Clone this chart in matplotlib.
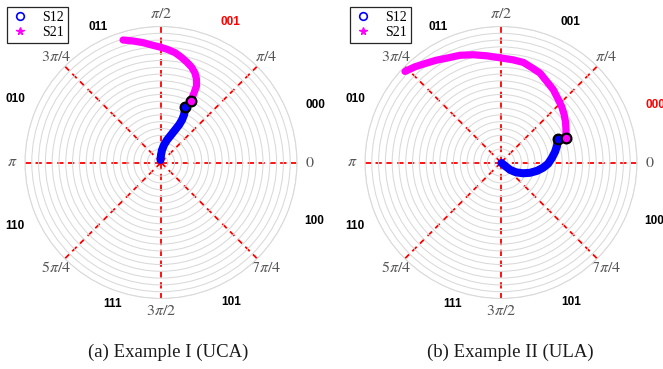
import numpy as np
import matplotlib
matplotlib.use("Agg")
import matplotlib.pyplot as plt
from matplotlib.lines import Line2D

plt.rcParams["mathtext.fontset"] = "stix"
plt.rcParams["font.family"] = ["Liberation Serif", "DejaVu Serif"]

# ── Data (theta in degrees, r normalised to outer ring = 1) ──────────────────

# Example I (UCA)
uca_s12_theta = [101, 90, 85.4, 80.3, 75.1, 70, 66.7, 64.4, 63.7, 64.2, 65.4, 66.6]
uca_s12_r     = [0.019, 0.055, 0.092, 0.131, 0.171, 0.215, 0.260, 0.306,
                 0.349, 0.388, 0.424, 0.445]
uca_s21_theta = [64.2, 64.6, 65.1, 67.0, 69.2, 72.3, 75.7, 79.3, 82.7,
                 86.5, 90.1, 94.4, 98.5, 103, 107.2]
uca_s21_r     = [0.502, 0.566, 0.620, 0.667, 0.704, 0.737, 0.763, 0.790,
                 0.814, 0.832, 0.847, 0.866, 0.891, 0.917, 0.943]

# Example II (ULA)
ula_s12_theta = [-45, -39.5, -39, -33.2, -26.1, -19.6, -13, -7.2, -1.6,
                 5.3, 11.2, 16.6, 22.6]
ula_s12_r     = [0.005, 0.038, 0.085, 0.132, 0.180, 0.226, 0.272, 0.311,
                 0.346, 0.377, 0.405, 0.430, 0.454]
ula_s21_theta = [20.8, 26.7, 32.3, 37.7, 42.7, 48.2, 54.3, 60.3, 66.4, 71.9,
                 77.4, 83.3, 89.6, 97.5, 104.4, 110.9, 117.5, 122.5, 126.8,
                 131.9, 136.5]
ula_s21_r     = [0.511, 0.535, 0.561, 0.585, 0.607, 0.628, 0.659, 0.683,
                 0.717, 0.733, 0.754, 0.760, 0.768, 0.791, 0.818, 0.844,
                 0.865, 0.891, 0.913, 0.946, 0.973]

# bit labels around the circle, and which one is highlighted
BITS       = ["000", "001", "011", "010", "110", "111", "101", "100"]
BIT_THETA  = [20.5, 63.7, 114.7, 156.5, 203.5, 251, 296.5, 339]
BIT_R      = [1.21, 1.15, 1.10, 1.17, 1.17, 1.10, 1.15, 1.21]

TICK_DEG    = [0, 45, 90, 135, 180, 225, 270, 315]
TICK_LABELS = [r"$0$", r"$\pi/4$", r"$\pi/2$", r"$3\pi/4$",
               r"$\pi$", r"$5\pi/4$", r"$3\pi/2$", r"$7\pi/4$"]

N_RINGS = 20

GRID_GREY = "#d9d9d9"
TICK_GREY = "#555555"
BLUE = "#0000ff"
MAGENTA = "#ff00ff"


def draw_panel(ax, s12_t, s12_r, s21_t, s21_r, red_bit, caption, cap_x):
    ax.set_ylim(0, 1)
    ax.set_yticks(np.linspace(1 / N_RINGS, 1, N_RINGS))
    ax.set_yticklabels([])
    ax.yaxis.grid(True, color=GRID_GREY, linewidth=0.75, linestyle="-")
    ax.set_xticks(np.deg2rad(TICK_DEG))
    ax.set_xticklabels(TICK_LABELS, fontsize=11.5, color=TICK_GREY)
    ax.xaxis.grid(True, color="red", linewidth=1.3, linestyle=(0, (3.5, 2.5)))
    ax.tick_params(axis="x", pad=2, length=0)
    ax.spines["polar"].set_color(GRID_GREY)
    ax.spines["polar"].set_linewidth(0.75)

    t12 = np.deg2rad(s12_t)
    t21 = np.deg2rad(s21_t)
    ax.plot(t12, s12_r, color=BLUE, linewidth=5.8, solid_capstyle="round",
            solid_joinstyle="round", zorder=3)
    ax.plot(t21, s21_r, color=MAGENTA, linewidth=5.2, solid_capstyle="round",
            solid_joinstyle="round", zorder=3)
    ax.plot(t12[-1], s12_r[-1], "o", mfc=BLUE, mec="black", ms=7, mew=1.6, zorder=4)
    ax.plot(t21[0], s21_r[0], "o", mfc=MAGENTA, mec="black", ms=7, mew=1.6, zorder=4)

    for b, th, r in zip(BITS, BIT_THETA, BIT_R):
        ax.text(np.deg2rad(th), r, b, ha="center", va="center",
                fontsize=8.5, fontweight="bold", family="Liberation Sans",
                color="red" if b == red_bit else "black", clip_on=False)

    ax.figure.text(cap_x, 1 - 352 / 369, caption, ha="center", va="center",
                   fontsize=13.5, color="#1a1a1a")


fig = plt.figure(figsize=(6.63, 3.69), dpi=100)
ax_l = fig.add_axes([25 / 663, 70.5 / 369, 272 / 663, 272 / 369], projection="polar")
ax_r = fig.add_axes([365 / 663, 70.5 / 369, 272 / 663, 272 / 369], projection="polar")

draw_panel(ax_l, uca_s12_theta, uca_s12_r, uca_s21_theta, uca_s21_r,
           "001", "(a) Example I (UCA)", 168 / 663)
draw_panel(ax_r, ula_s12_theta, ula_s12_r, ula_s21_theta, ula_s21_r,
           "000", "(b) Example II (ULA)", 510 / 663)

handles = [
    Line2D([], [], linestyle="none", marker="o", mfc="none", mec=BLUE, ms=5.5, mew=1.2),
    Line2D([], [], linestyle="none", marker="*", color=MAGENTA, ms=5.5),
]
for x0 in (7, 350):
    leg = fig.legend(handles, ["S12", "S21"], loc="upper left",
                     bbox_to_anchor=(x0 / 663, 1 - 7 / 369), borderaxespad=0,
                     fontsize=10, frameon=True, fancybox=False, framealpha=1,
                     edgecolor="#262626", handlelength=1.2, handletextpad=1.0,
                     borderpad=0.3, labelspacing=0.15)
    leg.get_frame().set_linewidth(0.9)

fig.savefig("out.png", dpi=100)
